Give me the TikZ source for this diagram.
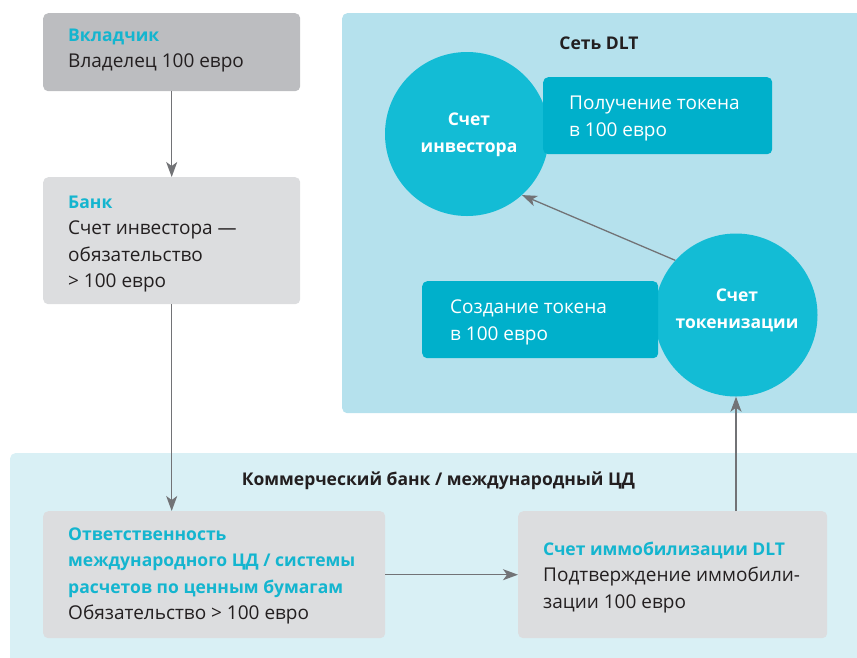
\documentclass[tikz,border=0pt]{standalone}
\usepackage{fontspec}
\setmainfont{Open Sans}
\usetikzlibrary{arrows.meta}
\definecolor{darkbox}{HTML}{BCBDC0}
\definecolor{lightbox}{HTML}{DCDDDF}
\definecolor{dltbg}{HTML}{B5E1ED}
\definecolor{cbbg}{HTML}{D9F0F5}
\definecolor{circ}{HTML}{13BCD5}
\definecolor{tealbox}{HTML}{00B0CB}
\definecolor{tealtxt}{HTML}{14B5CF}
\definecolor{ink}{HTML}{231F20}
\definecolor{arrowgray}{HTML}{727376}
\newcommand\hdline[1]{{\fontsize{17.5pt}{26.5pt}\selectfont\bfseries\color{tealtxt}#1}}
\begin{document}
\begin{tikzpicture}[x=1pt,y=-1pt,
  region/.style={fill=#1, rounded corners=5pt, inner sep=0pt, anchor=north west},
  card/.style={fill=#1, rounded corners=5pt, inner sep=0pt, anchor=north west},
  acct/.style={circle, fill=circ, inner sep=0pt, minimum size=#1},
  ctxt/.style={inner sep=0pt, anchor=base, align=center, text=white,
    font={\fontsize{17.5pt}{26.5pt}\selectfont\bfseries}},
  txt/.style={inner sep=0pt, anchor=base west, align=left, text=ink,
    font={\fontsize{19pt}{26.5pt}\selectfont}},
  wtxt/.style={txt, text=white},
  ttl/.style={inner sep=0pt, anchor=base, text=ink,
    font={\fontsize{17.5pt}{20pt}\selectfont\bfseries}},
  arr/.style={draw=arrowgray, line width=1.3pt,
    -{Stealth[length=15pt,width=11pt,inset=4pt]}}
]
\useasboundingbox (0,0) rectangle (857,657);

% regions
\node[region=dltbg, minimum width=540pt, minimum height=400pt] (dlt) at (342,13) {};
\node[region=cbbg, minimum width=870pt, minimum height=220pt] (cb) at (10,453) {};
\node[ttl] (dltt) at (599,49) {Сеть DLT};
\node[ttl] (cbt) at (438.5,485) {Коммерческий банк / международный ЦД};

% left column
\node[card=darkbox, minimum width=257pt, minimum height=78pt] (dep) at (43,13) {};
\node[txt] (dept) at (68,67.5) {\hdline{Вкладчик}\\Владелец 100 евро};

\node[card=lightbox, minimum width=257pt, minimum height=127pt] (bank) at (43,177) {};
\node[txt] (bankt) at (68,287.5) {\hdline{Банк}\\Счет инвестора —\\обязательство\\> 100 евро};

% bottom cards
\node[card=lightbox, minimum width=342pt, minimum height=127pt] (resp) at (43,511) {};
\node[txt] (respt) at (68,619.5) {\hdline{Ответственность}\\\hdline{международного ЦД / системы}\\\hdline{расчетов по ценным бумагам}\\Обязательство > 100 евро};

\node[card=lightbox, minimum width=309pt, minimum height=127pt] (imm) at (518,511) {};
\node[txt] (immt) at (543,608) {\hdline{Счет иммобилизации DLT}\\Подтверждение иммобили-\\зации 100 евро};

% DLT accounts
\node[acct=164pt] (inv) at (467,134) {};
\node[ctxt] (invt) at (469,152) {Счет\\инвестора};
\node[card=tealbox, minimum width=229pt, minimum height=77pt] (recv) at (543,77) {};
\node[wtxt] (recvt) at (569,136) {Получение токена\\в 100 евро};

\node[acct=163pt] (tok) at (736,315) {};
\node[ctxt] (tokt) at (737,328) {Счет\\токенизации};
\node[card=tealbox, minimum width=236pt, minimum height=77pt] (make) at (422,281) {};
\node[wtxt] (maket) at (450,340) {Создание токена\\в 100 евро};

% connectors
\draw[arr] (dep.south) -- (bank.north);
\draw[arr] (bank.south) -- (bank.south |- resp.north);
\draw[arr] (resp.east) -- (imm.west);
\draw[arr] (tok.south |- imm.north) -- (tok.south);
\draw[arr] (tok.138.8) -- (inv.-48.4);
\end{tikzpicture}
\end{document}
